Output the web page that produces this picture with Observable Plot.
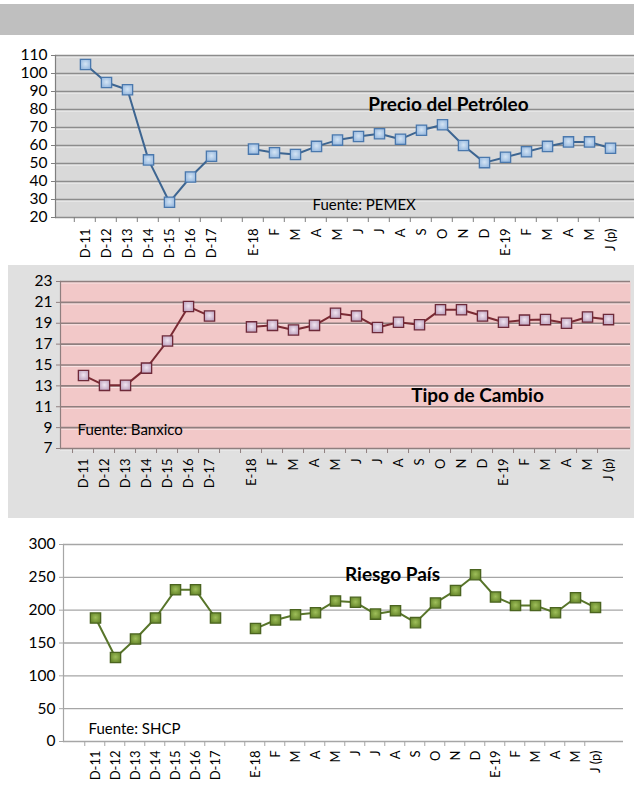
<!DOCTYPE html>
<html><head><meta charset="utf-8">
<script src="https://cdn.jsdelivr.net/npm/d3@7"></script>
<script src="https://cdn.jsdelivr.net/npm/@observablehq/plot@0.6"></script>
<style>
body{margin:0;background:#fff;font-family:Lato,sans-serif}
#page{position:relative;width:634px;height:790px;overflow:hidden;background:#fff}
#header{position:absolute;left:0;top:4px;width:634px;height:31px;background:#bfbfbf}
#box2{position:absolute;left:8px;top:265px;width:626px;height:253px;background:#e0e0e0}
.panel{position:absolute;left:0}
</style></head><body>
<div id="page"><div id="header"></div><div id="box2"></div>
<div id="p1" class="panel" style="top:40px"></div>
<div id="p2" class="panel" style="top:265px"></div>
<div id="p3" class="panel" style="top:530px"></div>
</div>
<script>
const categories = ["D-11","D-12","D-13","D-14","D-15","D-16","D-17","","E-18","F","M","A","M","J","J","A","S","O","N","D","E-19","F","M","A","M","J (p)"];
const petroleo = [105,95,91,52,28.5,42.5,54,null,58,56,55,59.5,63,65,66.5,63.5,68.5,71.5,60,50.5,53.5,56.5,59.5,62,62,58.5];
const tipoCambio = [14.0,13.05,13.05,14.7,17.3,20.6,19.7,null,18.65,18.8,18.35,18.8,19.95,19.7,18.6,19.1,18.85,20.3,20.3,19.7,19.1,19.3,19.35,19.0,19.6,19.35];
const riesgo = [188,128,156,188,231,231,188,null,172,185,193,196,214,212,194,199,181,211,230,254,220,207,207,196,219,204];
const ticksPetroleo = d3.range(20,111,10);
const ticksCambio = d3.range(7,24,2);
const ticksRiesgo = d3.range(0,301,50);

function panel(o){
  const idx = d3.range(categories.length);
  const data = o.values.map((v,i)=>({i, v}));
  const step = (o.xRange[1]-o.xRange[0])/(categories.length-1);
  const svg = Plot.plot({
    width:634, height:o.height, marginTop:o.top, marginBottom:o.height-o.bottom,
    marginLeft:o.left, marginRight:634-o.right,
    style:{fontFamily:"Lato, sans-serif", background:"transparent", overflow:"visible", color:"#000"},
    x:{type:"point", domain:idx, range:o.xRange, axis:null, label:null},
    y:{domain:o.yDomain, axis:null, label:null},
    marks:[
      o.bg ? Plot.frame({fill:o.bg, stroke:null}) : null,
      Plot.gridY(o.yTicks, {stroke:"#fff", strokeOpacity:o.hl, strokeWidth:1.2, dy:1.5}),
      Plot.gridY(o.yTicks, {stroke:o.grid, strokeOpacity:1, strokeWidth:o.gridW}),
      Plot.frame({anchor:"left", stroke:o.axisColor, strokeWidth:1.2}),
      Plot.axisY(o.yTicks, {tickSize:4, tickPadding:4, fontSize:15.5, stroke:o.axisColor, label:null}),
      Plot.axisX(idx, {tickSize:0, tickPadding:o.pad, tickRotate:-90, tickFormat:i=>categories[i], fontSize:13, label:null}),
      Plot.axisX(idx, {tickSize:5, text:null, dx:-step/2, stroke:o.axisColor, label:null}),
      Plot.lineY(data, {x:"i", y:"v", stroke:o.lineColor, strokeWidth:2}),
      Plot.dot(data.filter(d=>d.v!=null), {x:"i", y:"v", symbol:"square", r:5.8, fill:`url(#${o.id}g)`, stroke:o.dotStroke, strokeWidth:1.3}),
      Plot.text([o.title], {frameAnchor:"top-left", dx:o.titleDx, dy:o.titleDy, textAnchor:"middle", fontSize:19, fontWeight:"bold"}),
      Plot.text([o.src], {frameAnchor:"top-left", dx:o.srcDx, dy:o.srcDy, textAnchor:"start", fontSize:15})
    ]
  });
  svg.insertAdjacentHTML("afterbegin",
    `<defs><radialGradient id="${o.id}g" cx="50%" cy="45%" r="65%"><stop offset="0%" stop-color="${o.c1}"/><stop offset="100%" stop-color="${o.c2}"/></radialGradient></defs>`);
  document.getElementById(o.id).appendChild(svg);
}

panel({id:"p1", values:petroleo, yDomain:[20,110], yTicks:ticksPetroleo, height:222, top:15, bottom:177,
  left:55, right:634, xRange:[67,627], bg:"#d9d9d9", grid:"#8c8c8c", gridW:1.6, hl:0.7, axisColor:"#7f7f7f",
  lineColor:"#3d6591", dotStroke:"#4a78ad", c1:"#d4e4f4", c2:"#8fb3dc", pad:11,
  title:"Precio del Petróleo", titleDx:393, titleDy:42, src:"Fuente: PEMEX", srcDx:257, srcDy:144});

panel({id:"p2", values:tipoCambio, yDomain:[7,23], yTicks:ticksCambio, height:245, top:16, bottom:183,
  left:60, right:630, xRange:[71,619], bg:"#f2c8c8", grid:"#8f7f7f", gridW:1.6, hl:0.5, axisColor:"#8f7f7f",
  lineColor:"#7a2a33", dotStroke:"#6e2a3a", c1:"#f0e4f0", c2:"#b89ab8", pad:10,
  title:"Tipo de Cambio", titleDx:417, titleDy:107, src:"Fuente: Banxico", srcDx:17, srcDy:143});

panel({id:"p3", values:riesgo, yDomain:[0,300], yTicks:ticksRiesgo, height:258, top:14, bottom:211,
  left:63, right:623, xRange:[77,613], bg:null, grid:"#a6a6a6", gridW:1.4, hl:0, axisColor:"#a6a6a6",
  lineColor:"#58752a", dotStroke:"#4b6420", c1:"#9fbf5a", c2:"#5f7f26", pad:9,
  title:"Riesgo País", titleDx:329, titleDy:23, src:"Fuente: SHCP", srcDx:25, srcDy:179});
</script>
</body></html>
